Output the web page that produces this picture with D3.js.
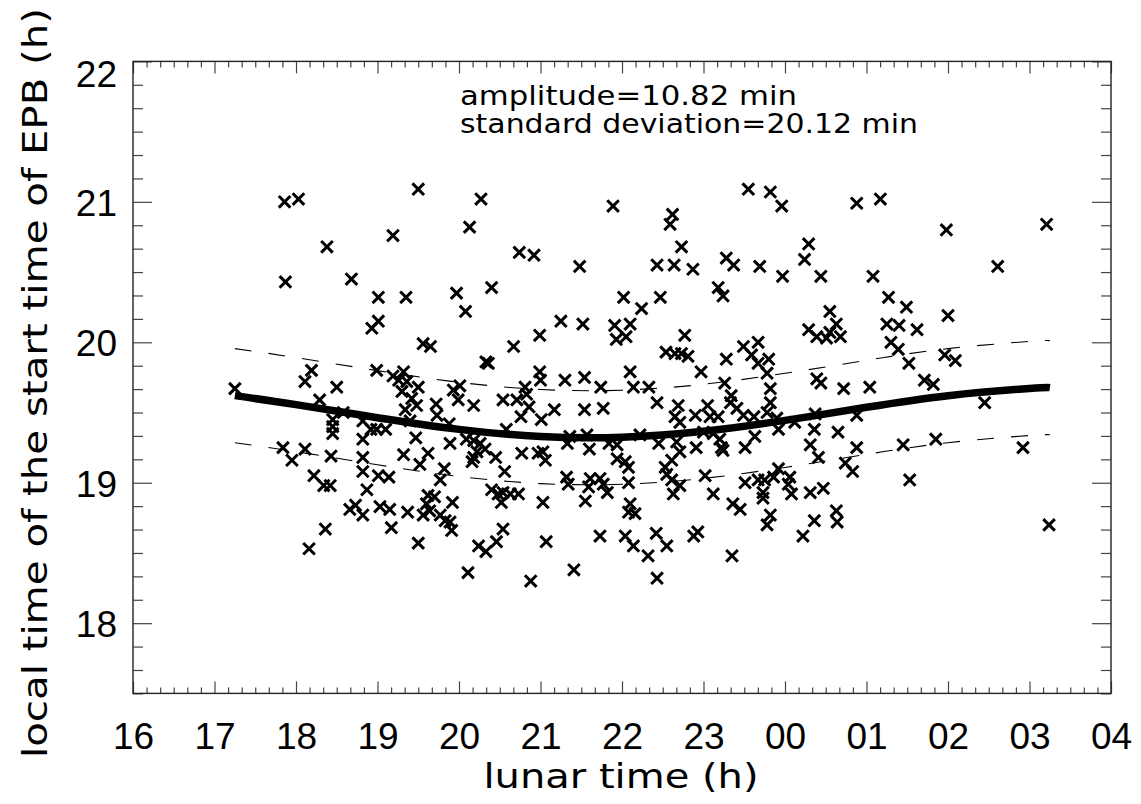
<!DOCTYPE html>
<html><head><meta charset="utf-8">
<script src="https://cdn.jsdelivr.net/npm/d3@7"></script>
<style>body{margin:0;background:#fff} svg{display:block}</style>
</head><body>
<svg id="c" width="1141" height="804"></svg>
<script>
// ---- data (lunar time in hours, values >24 are after midnight) ----
const lunarTime = [
17.86,18.03,18.38,17.87,18.68,19.01,19.01,18.93,18.19,18.11,
17.25,18.50,18.99,18.29,18.58,18.45,18.45,18.45,18.82,18.92,
18.82,17.84,18.11,17.95,18.43,18.82,18.82,19.01,18.22,18.34,
18.42,18.87,18.66,18.73,18.82,19.03,18.36,18.16,
19.50,20.27,19.19,20.13,20.74,20.92,21.89,21.48,19.35,19.97,
20.40,20.08,21.25,21.52,20.99,20.67,21.91,21.93,19.56,19.65,
20.36,20.33,19.19,19.32,19.26,19.36,19.50,19.30,19.42,19.48,
20.01,19.93,19.99,19.72,19.73,20.18,19.34,19.40,19.88,18.99,
19.10,19.47,20.54,20.71,20.81,20.83,20.86,20.99,21.00,21.30,
21.54,21.74,20.76,21.01,21.17,21.54,21.77,20.58,21.36,21.57,
21.84,21.94,19.89,20.09,20.18,20.26,19.32,19.62,19.52,20.32,
20.22,20.18,20.16,20.45,20.56,20.77,20.97,21.03,21.06,21.33,
21.60,21.94,19.14,19.77,19.82,20.40,20.48,20.54,20.63,20.73,
20.52,21.03,21.32,21.34,21.61,21.73,21.77,21.59,21.55,21.82,
19.62,19.70,19.60,19.64,19.56,19.15,19.37,19.77,19.83,19.89,
19.91,19.92,19.17,19.50,20.54,20.46,20.24,20.33,21.07,21.73,
20.11,20.88,21.41,
23.55,23.82,23.96,24.88,22.62,22.59,22.73,22.43,22.64,22.87,
23.28,23.37,23.69,23.97,24.29,24.24,24.44,22.02,22.47,22.24,
23.18,23.24,22.10,22.05,22.77,22.54,22.65,22.73,22.81,22.97,
22.10,22.14,22.33,22.43,23.28,23.49,23.67,23.59,23.67,23.80,
23.78,23.26,23.34,23.33,23.41,23.49,23.82,23.82,23.78,24.29,
24.39,24.51,24.55,24.63,24.55,24.68,24.39,24.44,24.72,22.69,
22.65,22.71,22.90,23.05,23.08,23.18,23.62,23.90,23.92,24.12,
24.37,24.36,24.65,24.88,22.22,22.45,22.67,23.00,23.12,23.20,
23.63,24.31,22.71,22.91,23.22,23.24,23.51,24.41,24.88,22.04,
22.08,22.61,22.53,22.55,22.61,22.71,22.63,22.08,23.02,23.12,
23.51,23.67,23.75,23.86,23.92,24.06,24.04,24.08,23.73,23.73,
24.31,24.47,24.74,24.83,22.10,22.08,22.16,23.36,23.45,23.82,
23.78,24.36,24.63,24.64,22.04,22.14,22.42,22.55,22.88,22.93,
22.32,23.35,24.22,22.43,
25.17,25.98,27.21,25.08,26.61,25.27,25.49,25.25,25.40,25.62,
26.00,25.30,25.39,25.52,25.96,26.09,25.04,25.71,25.82,26.45,
25.45,25.85,26.92,25.53,27.24
];
const epbStart = [
21.00,21.02,20.68,20.43,20.45,20.32,20.15,20.10,19.80,19.72,
19.67,19.68,19.80,19.59,19.50,19.45,19.40,19.35,19.44,19.38,
19.31,19.25,19.24,19.16,19.19,19.18,19.08,19.05,19.05,18.98,
18.98,18.95,18.81,18.84,18.77,18.83,18.67,18.53,
21.09,21.02,20.76,20.82,20.64,20.62,20.97,20.54,20.32,20.35,
20.39,20.22,20.15,20.13,20.05,19.97,20.12,20.02,19.99,19.97,
19.85,19.86,19.76,19.79,19.73,19.72,19.68,19.65,19.60,19.55,
19.69,19.66,19.59,19.56,19.48,19.55,19.52,19.44,19.42,19.38,
19.38,19.32,19.59,19.59,19.68,19.63,19.54,19.79,19.73,19.73,
19.75,19.68,19.47,19.45,19.52,19.52,19.53,19.38,19.33,19.34,
19.28,19.27,19.28,19.31,19.30,19.28,19.20,19.21,19.13,19.24,
19.22,19.18,19.15,19.18,19.08,19.21,19.21,19.22,19.16,19.28,
19.24,19.17,19.04,19.02,19.10,18.95,18.92,18.93,18.92,18.92,
18.86,18.86,19.04,18.99,19.03,19.03,18.99,18.97,18.87,18.93,
18.91,18.90,18.85,18.80,18.77,18.81,18.79,18.77,18.73,18.72,
18.66,18.86,18.68,18.57,18.67,18.58,18.55,18.51,18.58,18.62,
18.36,18.30,18.38,
21.09,21.07,20.97,20.99,20.91,20.84,20.68,20.55,20.55,20.52,
20.60,20.55,20.54,20.47,20.70,20.59,20.47,20.32,20.32,20.24,
20.39,20.33,20.13,20.04,20.05,19.93,19.92,19.92,19.90,19.79,
19.79,19.68,19.68,19.57,19.88,19.97,20.00,19.91,19.85,19.88,
19.78,19.71,19.62,19.57,19.53,19.48,19.67,19.57,19.50,20.09,
20.04,20.03,20.07,20.13,20.22,20.04,19.74,19.71,19.67,19.55,
19.47,19.43,19.48,19.55,19.47,19.47,19.47,19.46,19.38,19.43,
19.49,19.38,19.36,19.48,19.34,19.28,19.29,19.36,19.35,19.31,
19.33,19.27,19.22,19.25,19.25,19.23,19.25,19.18,19.25,19.15,
19.11,19.16,19.11,19.06,19.02,18.98,18.92,19.00,19.05,18.92,
19.00,19.02,19.02,19.04,19.10,19.04,18.99,18.92,18.93,18.89,
18.93,18.96,19.14,19.08,18.85,18.79,18.78,18.85,18.81,18.77,
18.70,18.73,18.80,18.72,18.62,18.55,18.64,18.55,18.62,18.65,
18.48,18.48,18.62,18.32,
21.02,20.80,20.84,20.47,20.54,20.32,20.25,20.13,20.12,20.09,
20.19,20.00,19.95,19.85,19.91,19.87,19.68,19.73,19.70,19.57,
19.27,19.31,19.25,19.02,18.70
];
// fitted curve and +/- one standard deviation
const fitTime  = [17.25, 18, 19, 20, 21, 22, 23, 24, 25, 26, 27, 27.25];
const fitMean  = [19.62, 19.556, 19.463, 19.38, 19.329, 19.324, 19.366, 19.444, 19.537, 19.62, 19.671, 19.677];
const fitUpper = [19.955, 19.891, 19.798, 19.715, 19.664, 19.659, 19.701, 19.779, 19.872, 19.955, 20.006, 20.012];
const fitLower = [19.285, 19.221, 19.128, 19.045, 18.994, 18.989, 19.031, 19.109, 19.202, 19.285, 19.336, 19.342];

const xTickValues = [16,17,18,19,20,21,22,23,24,25,26,27,28];
const xTickLabels = ["16","17","18","19","20","21","22","23","00","01","02","03","04"];
const yTickValues = [18,19,20,21,22];
const yTickLabels = ["18","19","20","21","22"];
const annotations = ["amplitude=10.82 min", "standard deviation=20.12 min"];
const xTitle = "lunar time (h)";
const yTitle = "local time of the start time of EPB (h)";

// ---- drawing ----
const svg = d3.select("#c");
const L = 133, R = 1111, T = 61.4, B = 693.4;
const x = d3.scaleLinear().domain([16, 28]).range([L, R]);
const y = d3.scaleLinear().domain([17.5, 22]).range([B, T]);

const xMinor = d3.range(16, 28.0001, 1/6).filter(v => Math.abs(v - Math.round(v)) > 1e-6);
const yMinor = d3.range(17.5, 22.0001, 1/6).filter(v => Math.abs(v - Math.round(v)) > 1e-6);

const tickColor = "#444";
function styleAxis(g) {
  g.select(".domain").remove();
  g.selectAll(".tick line").attr("stroke", tickColor).attr("stroke-width", 1.2);
}

// bottom
svg.append("g").attr("transform", `translate(0,${B})`)
  .call(d3.axisBottom(x).tickValues(xTickValues).tickSize(-12)
    .tickFormat((d, i) => xTickLabels[i]))
  .call(styleAxis)
  .call(g => g.selectAll("text").attr("y", 55.6).attr("dy", null)
      .attr("font-family", "Liberation Sans, Arial, sans-serif")
      .attr("font-size", 37).attr("fill", "#000"));
svg.append("g").attr("transform", `translate(0,${B})`)
  .call(d3.axisBottom(x).tickValues(xMinor).tickSize(-6).tickFormat(""))
  .call(styleAxis);
// top
svg.append("g").attr("transform", `translate(0,${T})`)
  .call(d3.axisTop(x).tickValues(xTickValues).tickSize(-12).tickFormat(""))
  .call(styleAxis);
svg.append("g").attr("transform", `translate(0,${T})`)
  .call(d3.axisTop(x).tickValues(xMinor).tickSize(-6).tickFormat(""))
  .call(styleAxis);
// left
svg.append("g").attr("transform", `translate(${L},0)`)
  .call(d3.axisLeft(y).tickValues(yTickValues).tickSize(-19)
    .tickFormat((d, i) => yTickLabels[i]))
  .call(styleAxis)
  .call(g => g.selectAll("text").attr("x", -16).attr("dy", "0.36em")
      .attr("y", d => Math.max(0, T + 12 - y(d)))
      .attr("font-family", "Liberation Sans, Arial, sans-serif")
      .attr("font-size", 37).attr("fill", "#000"));
svg.append("g").attr("transform", `translate(${L},0)`)
  .call(d3.axisLeft(y).tickValues(yMinor).tickSize(-10).tickFormat(""))
  .call(styleAxis);
// right
svg.append("g").attr("transform", `translate(${R},0)`)
  .call(d3.axisRight(y).tickValues(yTickValues).tickSize(-19).tickFormat(""))
  .call(styleAxis);
svg.append("g").attr("transform", `translate(${R},0)`)
  .call(d3.axisRight(y).tickValues(yMinor).tickSize(-10).tickFormat(""))
  .call(styleAxis);

// frame
svg.append("rect").attr("x", L).attr("y", T).attr("width", R - L).attr("height", B - T)
  .attr("fill", "none").attr("stroke", "#222").attr("stroke-width", 1.4);

// fitted curves
const fitData = fitTime.map((t, i) => ({t, m: fitMean[i], u: fitUpper[i], l: fitLower[i]}));
const lineOf = key => d3.line().x(d => x(d.t)).y(d => y(d[key])).curve(d3.curveNatural);
svg.append("path").datum(fitData).attr("d", lineOf("u"))
  .attr("fill", "none").attr("stroke", "#000").attr("stroke-width", 1.1).attr("stroke-dasharray", "17,17");
svg.append("path").datum(fitData).attr("d", lineOf("l"))
  .attr("fill", "none").attr("stroke", "#000").attr("stroke-width", 1.1).attr("stroke-dasharray", "17,17");
svg.append("path").datum(fitData).attr("d", lineOf("m"))
  .attr("fill", "none").attr("stroke", "#000").attr("stroke-width", 7.5);

// scatter crosses
const s = 5.8;
svg.append("g").selectAll("path").data(lunarTime.map((t, i) => [t, epbStart[i]]))
  .join("path")
  .attr("transform", d => `translate(${x(d[0])},${y(d[1])})`)
  .attr("d", `M${-s},${-s}L${s},${s}M${-s},${s}L${s},${-s}`)
  .attr("stroke", "#000").attr("stroke-width", 3).attr("fill", "none");

// annotations
const font = "DejaVu Sans, Verdana, sans-serif";
svg.append("text").attr("x", 460).attr("y", 105).text(annotations[0])
  .attr("font-family", font).attr("font-size", 27)
  .attr("textLength", 337).attr("lengthAdjust", "spacingAndGlyphs");
svg.append("text").attr("x", 460).attr("y", 133).text(annotations[1])
  .attr("font-family", font).attr("font-size", 27)
  .attr("textLength", 458).attr("lengthAdjust", "spacingAndGlyphs");

// axis titles
svg.append("text").attr("x", 621).attr("y", 788).attr("text-anchor", "middle").text(xTitle)
  .attr("font-family", font).attr("font-size", 33)
  .attr("textLength", 275).attr("lengthAdjust", "spacingAndGlyphs");
svg.append("text").attr("transform", "translate(47,383) rotate(-90)").attr("text-anchor", "middle").text(yTitle)
  .attr("font-family", font).attr("font-size", 33)
  .attr("textLength", 750).attr("lengthAdjust", "spacingAndGlyphs");
</script>
</body></html>
